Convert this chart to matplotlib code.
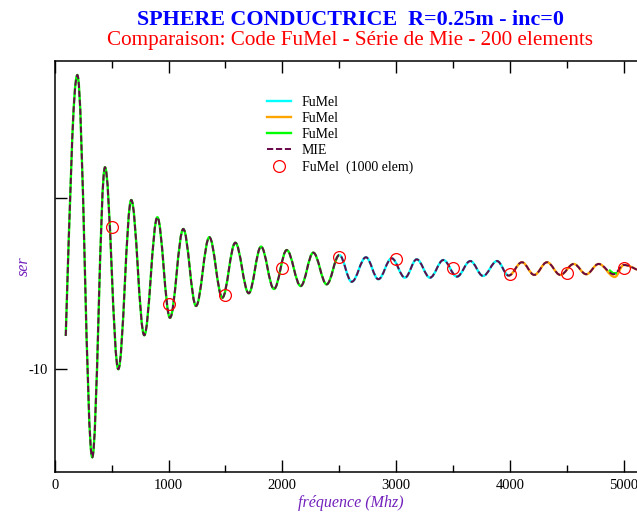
import matplotlib
matplotlib.use("Agg")
import matplotlib.pyplot as plt
from matplotlib.path import Path
from matplotlib.patches import PathPatch
from matplotlib.lines import Line2D

# MIE series: extrema (first/last are the curve ends)
mie_freq = [97, 199, 330, 442, 559, 673, 787, 902, 1013, 1130, 1242, 1359,
            1473, 1587, 1705, 1813, 1927, 2039, 2162, 2272, 2390, 2501, 2610,
            2735, 2844, 2961, 3078, 3181, 3298, 3415, 3535, 3652, 3764, 3887,
            3989, 4106, 4214, 4326, 4443, 4561, 4671, 4780, 4912, 5000, 5117]
mie_ser = [-8.06, 7.16, -15.14, 1.78, -10.0, -0.13, -8.02, -1.14, -7.0, -1.82,
           -6.31, -2.30, -5.83, -2.62, -5.57, -2.85, -5.32, -3.05, -5.15, -3.20,
           -5.05, -3.34, -4.90, -3.47, -4.75, -3.53, -4.66, -3.59, -4.66, -3.63,
           -4.60, -3.69, -4.56, -3.69, -4.54, -3.76, -4.50, -3.76, -4.50, -3.86,
           -4.46, -3.86, -4.46, -3.92, -4.20]

# FuMel (200 elements) pieces: green up to 2500 MHz, cyan to 4000, orange after
green_end = 2501
cyan_end = 3989
orange_dip = (4922, -4.62)
green_tail_f = [4879, 4905, 4931]
green_tail_v = [-4.25, -4.40, -4.40]

# FuMel 1000 elements
ref_freq = [500, 1000, 1500, 2000, 2500, 3000, 3500, 4000, 4500, 5000]
ref_ser = [-1.72, -6.18, -5.69, -4.10, -3.44, -3.57, -4.08, -4.46, -4.40, -4.11]

CYAN = "#00ffff"
ORANGE = "#ffa500"
GREEN = "#00ff00"
MAROON = "#670748"
INDIGO = "#7221bc"

plt.rcParams["font.family"] = ["Liberation Serif", "DejaVu Serif"]


def smooth_path(xs, ys, k=0.3634):
    # cubic segments with flat tangents at the peaks/troughs
    verts = [(xs[0], ys[0])]
    codes = [Path.MOVETO]
    n = len(xs)
    for i in range(n - 1):
        x0, y0, x1, y1 = xs[i], ys[i], xs[i + 1], ys[i + 1]
        dx = x1 - x0
        c1 = (x0 + k * dx, y0)
        c2 = (x1 - k * dx, y1)
        if i == 0 and ends_free[0]:
            c1 = (x0 + k * dx, y0 + 0.5 * (y1 - y0))
        if i == n - 2 and ends_free[1]:
            c2 = (x1 - k * dx, y1 - 0.5 * (y1 - y0))
        verts += [c1, c2, (x1, y1)]
        codes += [Path.CURVE4] * 3
    return Path(verts, codes)


def piece(lo, hi):
    f = [x for x in mie_freq if lo <= x <= hi]
    v = [y for x, y in zip(mie_freq, mie_ser) if lo <= x <= hi]
    return f, v


fig = plt.figure(figsize=(6.37, 5.12), dpi=100)
ax = fig.add_axes([54.7 / 637, 40 / 512, 5200 * 0.1138 / 637, 411.3 / 512])

# cyan piece
ends_free = (False, False)
f, v = piece(green_end, cyan_end)
ax.add_patch(PathPatch(smooth_path(f, v), fill=False, ec=CYAN, lw=1.7, zorder=2))

# orange piece
ends_free = (False, True)
f, v = piece(cyan_end, 6000)
f = [orange_dip[0] if x == 4912 else x for x in f]
v = [orange_dip[1] if x == orange_dip[0] else y for x, y in zip(f, v)]
ax.add_patch(PathPatch(smooth_path(f, v), fill=False, ec=ORANGE, lw=1.7, zorder=3))

# green piece
ends_free = (True, False)
f, v = piece(0, green_end)
ax.add_patch(PathPatch(smooth_path(f, v), fill=False, ec=GREEN, lw=1.7, zorder=4))
ax.plot(green_tail_f, green_tail_v, color=GREEN, lw=1.7, zorder=4)

# MIE dashed on top
ends_free = (True, True)
ax.add_patch(PathPatch(smooth_path(mie_freq, mie_ser), fill=False, ec=MAROON,
                       lw=1.4, ls=(0, (3.2, 1.4)), zorder=5))

ax.plot(ref_freq, ref_ser, "o", mfc="none", mec="red", ms=8.5, mew=0.9, zorder=6)

ax.set_xlim(0, 5200)
ax.set_ylim(-16, 8)
ax.set_xticks(range(0, 6000, 1000))
ax.set_xticks(range(500, 5500, 1000), minor=True)
ax.set_yticks([-10, 0])
ax.set_yticklabels(["-10", ""])
ax.tick_params(which="both", direction="in", top=True, labelsize=10.5, width=1.0)
ax.tick_params(which="major", length=8.5)
ax.tick_params(which="minor", length=5)
ax.tick_params(axis="x", pad=5)
ax.tick_params(axis="y", pad=5)
for s in ax.spines.values():
    s.set_linewidth(1.1)

ax.set_xlabel("fréquence (Mhz)", style="italic", color=INDIGO, fontsize=11.5, labelpad=2)
ax.set_ylabel("ser", style="italic", color=INDIGO, fontsize=11.5)
ax.yaxis.set_label_coords(-0.039, 0.5)

fig.text(350 / 637, 1 - 25 / 512, "SPHERE CONDUCTRICE  R=0.25m - inc=0",
         ha="center", va="baseline", color="blue", fontsize=15.8, fontweight="bold")
fig.text(350 / 637, 1 - 45 / 512, "Comparaison: Code FuMel - Série de Mie - 200 elements",
         ha="center", va="baseline", color="red", fontsize=15.2)

handles = [
    Line2D([], [], color=CYAN, lw=1.7),
    Line2D([], [], color=ORANGE, lw=1.7),
    Line2D([], [], color=GREEN, lw=1.7),
    Line2D([], [], color=MAROON, lw=1.4, ls=(0, (3.2, 1.4))),
    Line2D([], [], ls="none", marker="o", mfc="none", mec="red", ms=8.5, mew=0.9),
]
labels = ["FuMel", "FuMel", "FuMel", "MIE", "FuMel  (1000 elem)"]
fig.legend(handles, labels, loc="upper left", bbox_to_anchor=(267 / 637, 1 - 96 / 512),
           frameon=False, fontsize=10, handlelength=1.7, handletextpad=0.8,
           labelspacing=0.22, borderpad=0, borderaxespad=0)

fig.savefig("out.png", dpi=100)
